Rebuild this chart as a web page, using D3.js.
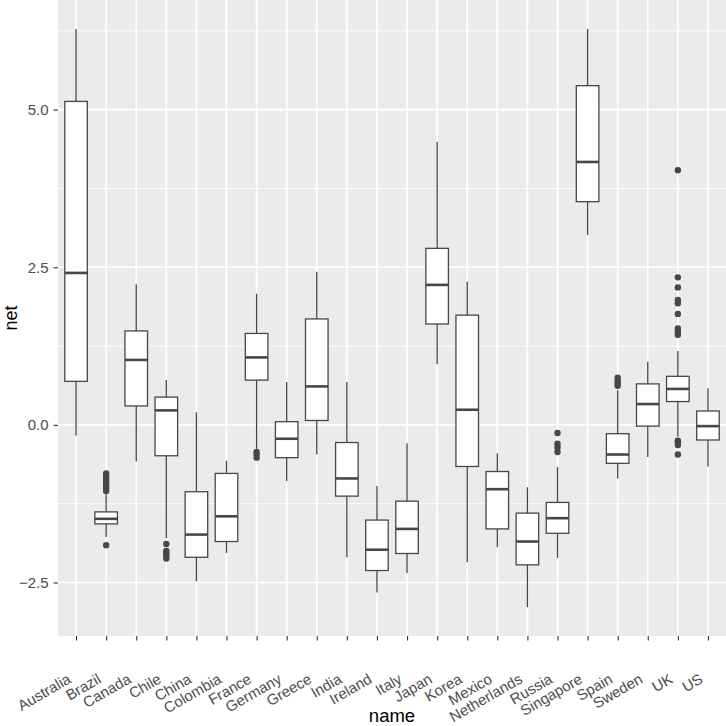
<!DOCTYPE html>
<html>
<head>
<meta charset="utf-8">
<script src="https://cdn.jsdelivr.net/npm/d3@7"></script>
<style>
    body { margin: 0; background: #ffffff; }
    svg { display: block; font-family: "Liberation Sans", Arial, sans-serif; }
</style>
</head>
<body>
<svg id="chart" width="726" height="726"></svg>
<script>

// categories
var names = ["Australia", "Brazil", "Canada", "Chile", "China", "Colombia", "France",
    "Germany", "Greece", "India", "Ireland", "Italy", "Japan", "Korea", "Mexico",
    "Netherlands", "Russia", "Singapore", "Spain", "Sweden", "UK", "US"];

// box statistics, one value per category
var whiskerHigh = [6.28, -1.10, 2.23, 0.71, 0.20, -0.57, 2.08, 0.68, 2.43, 0.68, -0.97,
    -0.29, 4.49, 2.27, -0.45, -0.99, -0.67, 6.28, 0.55, 1.00, 1.17, 0.58];
var upperQuartile = [5.13, -1.38, 1.49, 0.44, -1.06, -0.77, 1.45, 0.05, 1.68, -0.28, -1.51,
    -1.21, 2.80, 1.74, -0.74, -1.40, -1.23, 5.38, -0.14, 0.65, 0.77, 0.22];
var median = [2.41, -1.49, 1.03, 0.23, -1.74, -1.45, 1.07, -0.22, 0.61, -0.85, -1.98,
    -1.65, 2.22, 0.24, -1.02, -1.85, -1.48, 4.17, -0.47, 0.33, 0.57, -0.02];
var lowerQuartile = [0.69, -1.57, 0.30, -0.49, -2.10, -1.85, 0.71, -0.52, 0.07, -1.13, -2.31,
    -2.04, 1.60, -0.66, -1.65, -2.22, -1.72, 3.54, -0.61, -0.02, 0.37, -0.24];
var whiskerLow = [-0.17, -1.78, -0.58, -1.80, -2.48, -2.03, -0.38, -0.89, -0.47, -2.10, -2.66,
    -2.35, 0.96, -2.18, -1.94, -2.89, -2.11, 3.01, -0.85, -0.51, -0.19, -0.66];
var outliers = [
    [],
    [-0.77, -0.81, -0.85, -0.89, -0.93, -0.97, -1.01, -1.05, -1.91],
    [],
    [-1.89, -2.00, -2.03, -2.07, -2.12],
    [], [],
    [-0.43, -0.47, -0.52],
    [], [], [], [], [], [], [], [], [],
    [-0.13, -0.30, -0.36, -0.43],
    [],
    [0.62, 0.66, 0.70, 0.75],
    [],
    [4.04, 2.34, 2.18, 1.98, 1.93, 1.76, 1.53, 1.48, 1.43, -0.25, -0.27, -0.32, -0.47],
    []
];

// tick labels
var yTicks = [-2.5, 0, 2.5, 5];
var yMinor = [-1.25, 1.25, 3.75, 6.25];


class BoxChart {

    constructor(id) {
        this.svg = d3.select("#" + id);

        // parameters
        this.panel = { left: 58, right: 726, top: 0, bottom: 636 };
        this.boxWidth = 0.75;
        this.lineColor = "#474747";
        this.textColor = "#4d4d4d";
        this.fontSize = "15px";
    }

    setup() {
        this.computeScales();
        this.drawPanel();
        this.drawBoxes();
        this.drawAxes();
    }

    computeScales() {
        var lo = d3.min(whiskerLow.concat(outliers.flat()));
        var hi = d3.max(whiskerHigh.concat(outliers.flat()));
        var pad = (hi - lo) * 0.05;

        this.y = d3.scaleLinear()
            .domain([lo - pad, hi + pad])
            .range([this.panel.bottom, this.panel.top]);

        this.x = d3.scalePoint()
            .domain(names)
            .range([this.panel.left, this.panel.right])
            .padding(0.6);
    }

    drawPanel() {
        var p = this.panel;
        var svg = this.svg;

        svg.append("rect")
            .attr("x", p.left).attr("y", p.top)
            .attr("width", p.right - p.left).attr("height", p.bottom - p.top)
            .attr("fill", "#ebebeb");

        svg.selectAll(".minor").data(yMinor.filter(d => this.y(d) > p.top)).enter()
            .append("line")
            .attr("x1", p.left).attr("x2", p.right)
            .attr("y1", d => this.y(d)).attr("y2", d => this.y(d))
            .attr("stroke", "#ffffff").attr("stroke-width", 0.9);

        svg.selectAll(".major-y").data(yTicks).enter()
            .append("line")
            .attr("x1", p.left).attr("x2", p.right)
            .attr("y1", d => this.y(d)).attr("y2", d => this.y(d))
            .attr("stroke", "#ffffff").attr("stroke-width", 1.7);

        svg.selectAll(".major-x").data(names).enter()
            .append("line")
            .attr("x1", d => this.x(d)).attr("x2", d => this.x(d))
            .attr("y1", p.top).attr("y2", p.bottom)
            .attr("stroke", "#ffffff").attr("stroke-width", 1.7);
    }

    drawBoxes() {
        var half = this.x.step() * this.boxWidth / 2;
        var color = this.lineColor;

        for (var idx = 0; idx < names.length; idx += 1) {

            var g = this.svg.append("g");
            var cx = this.x(names[idx]);

            // whiskers
            g.append("line")
                .attr("x1", cx).attr("x2", cx)
                .attr("y1", this.y(whiskerHigh[idx])).attr("y2", this.y(upperQuartile[idx]))
                .attr("stroke", color).attr("stroke-width", 1.3);
            g.append("line")
                .attr("x1", cx).attr("x2", cx)
                .attr("y1", this.y(lowerQuartile[idx])).attr("y2", this.y(whiskerLow[idx]))
                .attr("stroke", color).attr("stroke-width", 1.3);

            // box
            g.append("rect")
                .attr("x", cx - half)
                .attr("y", this.y(upperQuartile[idx]))
                .attr("width", half * 2)
                .attr("height", this.y(lowerQuartile[idx]) - this.y(upperQuartile[idx]))
                .attr("fill", "#ffffff")
                .attr("stroke", color).attr("stroke-width", 1.3);

            // median
            g.append("line")
                .attr("x1", cx - half).attr("x2", cx + half)
                .attr("y1", this.y(median[idx])).attr("y2", this.y(median[idx]))
                .attr("stroke", color).attr("stroke-width", 2.6);

            // outliers
            g.selectAll("circle").data(outliers[idx]).enter()
                .append("circle")
                .attr("cx", cx)
                .attr("cy", d => this.y(d))
                .attr("r", 3.2)
                .attr("fill", color);
        }
    }

    drawAxes() {
        var p = this.panel;
        var svg = this.svg;

        // y axis
        var yAxis = svg.append("g")
            .attr("transform", "translate(" + p.left + ",0)")
            .call(d3.axisLeft(this.y).tickValues(yTicks).tickFormat(d3.format(".1f"))
                .tickSize(4.5).tickPadding(5));
        yAxis.select(".domain").remove();
        yAxis.selectAll(".tick line").attr("stroke", "#333333").attr("stroke-width", 1.1);
        yAxis.selectAll(".tick text")
            .attr("fill", this.textColor)
            .attr("font-size", this.fontSize)
            .attr("font-family", "Liberation Sans, Arial, sans-serif");

        // x axis
        var xAxis = svg.append("g")
            .attr("transform", "translate(0," + p.bottom + ")")
            .call(d3.axisBottom(this.x).tickSize(4.5).tickFormat(""));
        xAxis.select(".domain").remove();
        xAxis.selectAll(".tick line").attr("stroke", "#333333").attr("stroke-width", 1.1);

        svg.selectAll(".xlabel").data(names).enter()
            .append("text")
            .attr("transform", d => "translate(" + (this.x(d) - 4) + ",682) rotate(-30)")
            .attr("text-anchor", "end")
            .attr("fill", this.textColor)
            .attr("font-size", this.fontSize)
            .text(d => d);

        // titles
        svg.append("text")
            .attr("x", (p.left + p.right) / 2)
            .attr("y", 722)
            .attr("text-anchor", "middle")
            .attr("font-size", "18.5px")
            .attr("fill", "#000000")
            .text("name");

        svg.append("text")
            .attr("transform", "translate(17," + ((p.top + p.bottom) / 2) + ") rotate(-90)")
            .attr("text-anchor", "middle")
            .attr("font-size", "18px")
            .attr("fill", "#000000")
            .text("net");
    }
}

var chart = new BoxChart("chart");
chart.setup();

</script>
</body>
</html>
